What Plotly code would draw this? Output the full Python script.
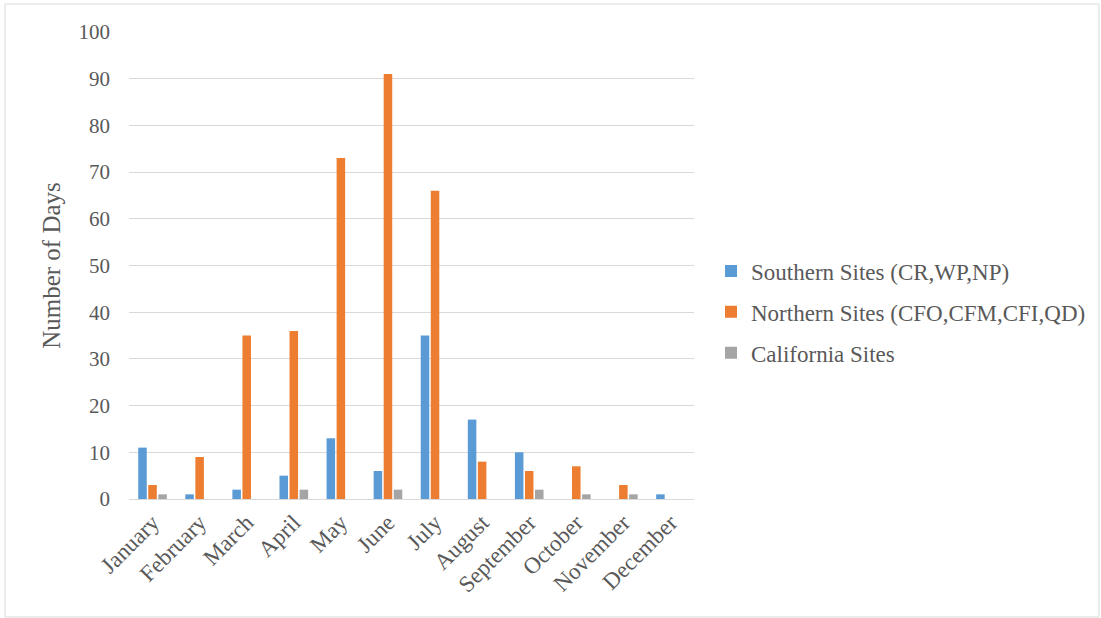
import plotly.graph_objects as go

months = ["January", "February", "March", "April", "May", "June", "July",
          "August", "September", "October", "November", "December"]
southern = [11, 1, 2, 5, 13, 6, 35, 17, 10, 0, 0, 1]
northern = [3, 9, 35, 36, 73, 91, 66, 8, 6, 7, 3, 0]
california = [1, 0, 0, 2, 0, 2, 0, 0, 2, 1, 1, 0]

names = ["Southern Sites (CR,WP,NP)", "Northern Sites (CFO,CFM,CFI,QD)", "California Sites"]
colors = ["#5B9BD5", "#ED7D31", "#A5A5A5"]

FONT = "Liberation Serif, Times New Roman, serif"
TXT = "#595959"

fig = go.Figure()
for name, vals, col in zip(names, [southern, northern, california], colors):
    fig.add_trace(go.Bar(x=months, y=vals, name=name, marker_color=col,
                         marker_line_width=0, legendgroup=name))

fig.update_layout(
    width=1101, height=618,
    margin=dict(l=129, r=407, t=32, b=119, autoexpand=False),
    paper_bgcolor="white", plot_bgcolor="white",
    barmode="group", bargap=0.36, bargroupgap=0.15,
    font=dict(family=FONT, color=TXT, size=21),
    showlegend=True,
    legend=dict(xref="container", yref="container", x=711 / 1101, xanchor="left",
                y=1 - 312 / 618, yanchor="middle",
                font=dict(size=23, color=TXT, family=FONT), tracegroupgap=8,
                bgcolor="rgba(0,0,0,0)", itemwidth=30),
    xaxis=dict(tickangle=-45, showgrid=False, showline=True, linecolor="#D9D9D9",
               linewidth=1, ticks="", tickfont=dict(size=23), fixedrange=True,
               automargin=False),
    yaxis=dict(range=[0, 100], dtick=10, showgrid=True, gridcolor="#D9D9D9",
               gridwidth=1, zeroline=False, showline=False, ticks="", automargin=False,
               ticklabelstandoff=18, tickfont=dict(size=21),
               title=dict(text="Number of Days", font=dict(size=25), standoff=10)),
    shapes=[dict(type="rect", xref="paper", yref="paper", x0=-124/565, x1=(1099-129)/565,
                 y0=(499-617)/467, y1=(499-4)/467, line=dict(color="#D9D9D9", width=1),
                 fillcolor="rgba(0,0,0,0)", layer="below")],
)

fig.write_html("out.html")
